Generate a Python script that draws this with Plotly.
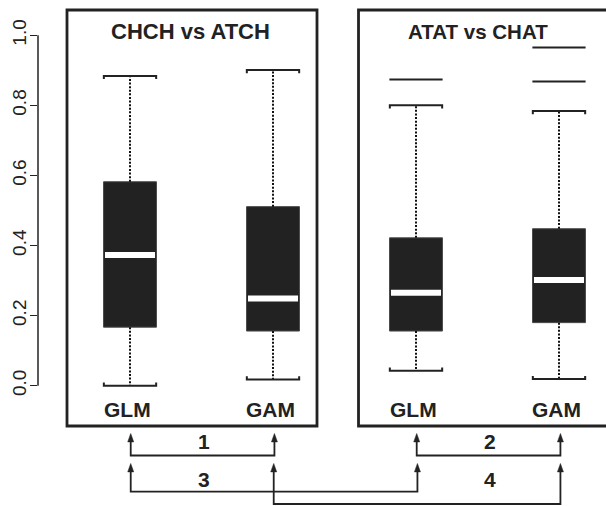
import plotly.graph_objects as go

# ---- data ----
categories = ["GLM", "GAM", "GLM", "GAM"]
positions = [1, 2, 3, 4]
panel_titles = ["CHCH vs ATCH", "ATAT vs CHAT"]
whisker_low = [0.000, 0.018, 0.043, 0.019]
q1 = [0.167, 0.156, 0.156, 0.180]
median = [0.373, 0.249, 0.265, 0.302]
q3 = [0.582, 0.511, 0.422, 0.448]
whisker_high = [0.884, 0.901, 0.800, 0.784]
outliers = [[], [], [0.874], [0.965, 0.868]]
comparisons = [("1", 0, 1), ("2", 2, 3), ("3", 0, 2), ("4", 1, 3)]
y_ticks = [0.0, 0.2, 0.4, 0.6, 0.8, 1.0]
y_ticklabels = ["0.0", "0.2", "0.4", "0.6", "0.8", "1.0"]

# ---- style / layout constants ----
FONT = "Liberation Sans, Arial, Helvetica, sans-serif"
DARK = "#222222"
BOX_W = 0.37
STAPLE_HW = 0.183
STAPLE_D = 0.009
X_RANGE = [0.3566, 4.3287]
Y_RANGE = [-0.3433, 1.1007]

fig = go.Figure()

# box bodies
fig.add_trace(go.Bar(
    x=positions, y=[b - a for a, b in zip(q1, q3)], base=q1, width=BOX_W,
    marker=dict(color=DARK, line=dict(color="#4a4a4a", width=1)),
    hoverinfo="skip", showlegend=False))

# whiskers (dotted)
wx, wy = [], []
for p, lo, a, b, hi in zip(positions, whisker_low, q1, q3, whisker_high):
    wx += [p, p, None, p, p, None]
    wy += [b, hi, None, a, lo, None]
fig.add_trace(go.Scatter(x=wx, y=wy, mode="lines",
                         line=dict(color="#111111", width=2, dash="2px,1.6px"),
                         hoverinfo="skip", showlegend=False))

# staples
sx, sy = [], []
for p, lo, hi in zip(positions, whisker_low, whisker_high):
    sx += [p - STAPLE_HW, p - STAPLE_HW, p + STAPLE_HW, p + STAPLE_HW, None]
    sy += [hi - STAPLE_D, hi, hi, hi - STAPLE_D, None]
    sx += [p - STAPLE_HW, p - STAPLE_HW, p + STAPLE_HW, p + STAPLE_HW, None]
    sy += [lo + STAPLE_D, lo, lo, lo + STAPLE_D, None]
fig.add_trace(go.Scatter(x=sx, y=sy, mode="lines",
                         line=dict(color=DARK, width=2),
                         hoverinfo="skip", showlegend=False))

# medians (white)
mx, my = [], []
for p, m in zip(positions, median):
    mx += [p - BOX_W / 2 + 0.01, p + BOX_W / 2 - 0.01, None]
    my += [m, m, None]
fig.add_trace(go.Scatter(x=mx, y=my, mode="lines",
                         line=dict(color="white", width=6),
                         hoverinfo="skip", showlegend=False))

# outliers (drawn as horizontal dashes)
ox, oy = [], []
for p, outs in zip(positions, outliers):
    for v in outs:
        ox.append(p)
        oy.append(v)
fig.add_trace(go.Scatter(x=ox, y=oy, mode="markers",
                         marker=dict(symbol="line-ew", size=38,
                                     line=dict(color=DARK, width=2)),
                         hoverinfo="skip", showlegend=False))

shapes = []
# panel frames
frames = [(0.5594, 2.3077), (2.598, 4.6)]
for x0, x1 in frames:
    shapes.append(dict(type="rect", xref="x", yref="y", x0=x0, x1=x1,
                       y0=-0.115, y1=1.0722,
                       line=dict(color=DARK, width=2.8), layer="above"))
# y axis line (0 to 1 only)
shapes.append(dict(type="line", xref="paper", yref="y", x0=0, x1=0, y0=0, y1=1,
                   line=dict(color=DARK, width=1.5)))

# comparison brackets
tip_y = [-0.1364, -0.1364, -0.222, -0.222]
bar_y = [-0.1992, -0.1992, -0.302, -0.3376]
AH_W = 0.021
AH_H = 0.024
for (lab, i, j), ty, by in zip(comparisons, tip_y, bar_y):
    xa = positions[i] + 0.005
    xb = positions[j] + 0.01
    shapes.append(dict(type="path", xref="x", yref="y",
                       path=f"M {xa},{ty - AH_H * 0.5} L {xa},{by} L {xb},{by} L {xb},{ty - AH_H * 0.5}",
                       line=dict(color=DARK, width=1.8)))
    for xx in (xa, xb):
        shapes.append(dict(type="path", xref="x", yref="y",
                           path=f"M {xx - AH_W},{ty - AH_H} L {xx},{ty} L {xx + AH_W},{ty - AH_H} Z",
                           fillcolor=DARK, line=dict(color=DARK, width=0.5)))

annotations = []
title_x = [1.4196, 3.4336]
title_size = [22, 20.5]
for t, x, s in zip(panel_titles, title_x, title_size):
    annotations.append(dict(x=x, y=1.0094, xref="x", yref="y", text=f"<b>{t}</b>",
                            showarrow=False, font=dict(family=FONT, size=s, color=DARK)))
for c, p in zip(categories, positions):
    annotations.append(dict(x=p - 0.015, y=-0.068, xref="x", yref="y", text=f"<b>{c}</b>",
                            showarrow=False, font=dict(family=FONT, size=21, color=DARK)))
label_pos = {"1": (1.517, -0.158), "2": (3.517, -0.158), "3": (1.517, -0.268), "4": (3.517, -0.268)}
for lab, i, j in comparisons:
    lx, ly = label_pos[lab]
    annotations.append(dict(x=lx, y=ly, xref="x", yref="y", text=f"<b>{lab}</b>",
                            showarrow=False, font=dict(family=FONT, size=21, color=DARK)))

fig.update_layout(
    width=606, height=506,
    margin=dict(l=38, r=0, t=0, b=0),
    paper_bgcolor="white", plot_bgcolor="white",
    showlegend=False, barmode="overlay",
    shapes=shapes, annotations=annotations,
    xaxis=dict(range=X_RANGE, visible=False, fixedrange=True),
    yaxis=dict(range=Y_RANGE, tickvals=y_ticks, ticktext=y_ticklabels,
               ticks="outside", ticklen=7, tickwidth=1.5, tickcolor=DARK,
               showgrid=False, zeroline=False, showline=False, automargin=False,
               ticklabelstandoff=-4, fixedrange=True,
               tickangle=-90, tickfont=dict(family=FONT, size=19, color=DARK)),
)

# remove the default page margin so the figure fills the window exactly
fig.write_html("out.html",
               config={"displayModeBar": False, "staticPlot": True},
               post_script="document.body.style.margin='0';document.body.style.overflow='hidden';")
